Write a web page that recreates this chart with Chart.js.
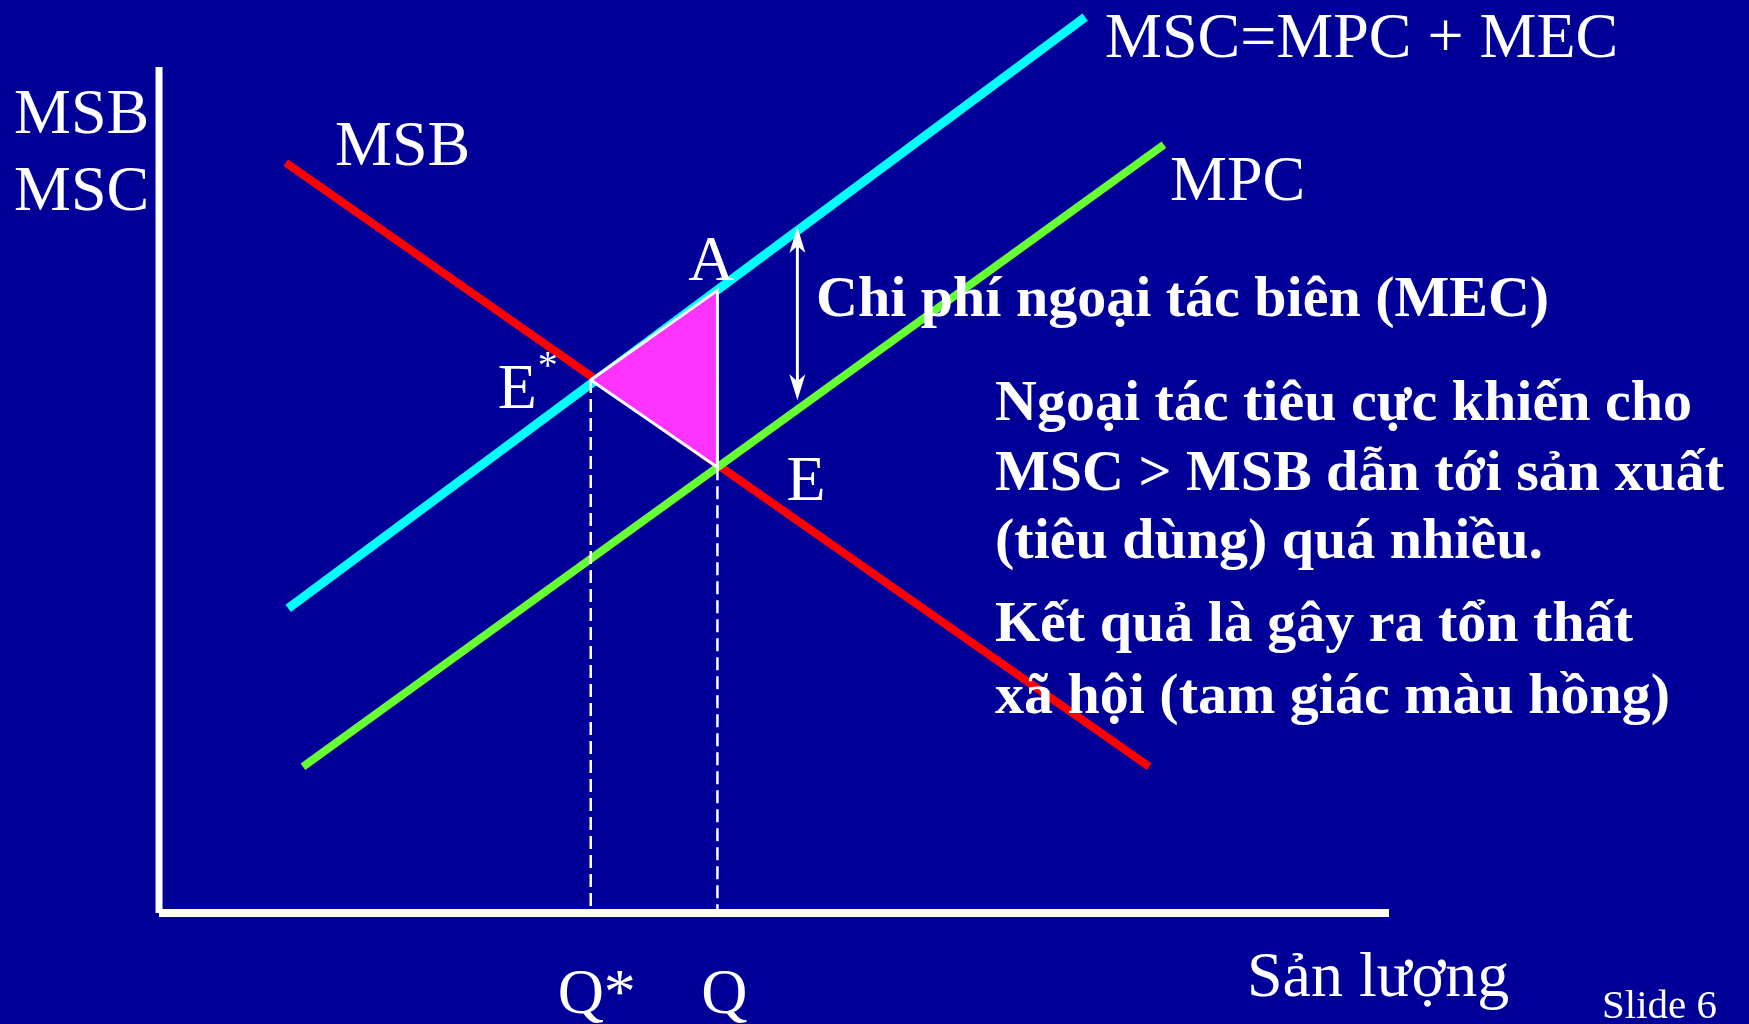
<!DOCTYPE html>
<html>
<head>
<meta charset="utf-8">
<script src="https://cdn.jsdelivr.net/npm/chart.js@4.4.1/dist/chart.umd.min.js"></script>
<style>
html, body { margin: 0; padding: 0; background: #000099; }
#wrap { position: relative; width: 1749px; height: 1024px; }
</style>
</head>
<body>
<div id="wrap"><canvas id="chart"></canvas></div>
<script>
// trục hoành: sản lượng 0..100, trục tung: chi phí / lợi ích 0..100
const axisMax = 100;
const msbX = [10.3, 80.5];
const msbY = [88.7, 17.3];
const mscX = [10.5, 75.3];
const mscY = [36.0, 105.9];
const mpcX = [11.7, 81.7];
const mpcY = [17.3, 90.8];
// E*, A, E
const triX = [35.1, 45.4, 45.4, 35.1];
const triY = [63.0, 73.6, 52.7, 63.0];
const qStar = 35.1, pStar = 63.0;
const qE = 45.4, pE = 52.7, pA = 73.6;
// mũi tên MEC
const mecX = 51.9, mecTop = 81.1, mecBottom = 60.6;

const pts = (xs, ys) => xs.map((x, i) => ({x, y: ys[i]}));

const serif = '"Liberation Serif", "Times New Roman", serif';

const labelPlugin = {
    id: "labels",
    afterDatasetsDraw(chart) {
        const {ctx, scales: {x, y}} = chart;
        const px = v => x.getPixelForValue(v);
        const py = v => y.getPixelForValue(v);
        ctx.save();
        ctx.fillStyle = "#fff";
        ctx.strokeStyle = "#fff";
        ctx.textBaseline = "alphabetic";

        // mũi tên hai đầu
        const ax = px(mecX), at = py(mecTop), ab = py(mecBottom);
        ctx.lineWidth = 3;
        ctx.beginPath();
        ctx.moveTo(ax, at + 12);
        ctx.lineTo(ax, ab - 12);
        ctx.stroke();
        const head = (x0, y0, dir) => {
            ctx.beginPath();
            ctx.moveTo(x0, y0);
            ctx.lineTo(x0 - 8, y0 + dir * 26);
            ctx.lineTo(x0, y0 + dir * 19);
            ctx.lineTo(x0 + 8, y0 + dir * 26);
            ctx.closePath();
            ctx.fill();
        };
        head(ax, at, 1);
        head(ax, ab, -1);

        ctx.font = "64px " + serif;
        ctx.textAlign = "left";
        ctx.fillText("MSB", 14, 133);
        ctx.fillText("MSC", 14, 210);
        ctx.fillText("MSB", 335, 165);
        ctx.fillText("MSC=MPC + MEC", 1105, 57);
        ctx.fillText("MPC", 1170, 200);
        ctx.fillText("Sản lượng", 1247, 996);

        ctx.textAlign = "center";
        ctx.fillText("A", px(qE) - 6, py(pA) - 10);
        ctx.fillText("Q*", px(qStar) + 6, 1013);
        ctx.fillText("Q", px(qE) + 7, 1013);
        ctx.textAlign = "left";
        ctx.fillText("E", px(qE) + 69, py(pE) + 33);
        ctx.fillText("E", px(qStar) - 93, py(pStar) + 28);
        ctx.font = "40px " + serif;
        ctx.fillText("*", px(qStar) - 53, py(pStar) - 2);

        ctx.font = "41px " + serif;
        ctx.fillText("Slide 6", 1602, 1018);

        ctx.font = "bold 58px " + serif;
        ctx.fillText("Chi phí ngoại tác biên (MEC)", 816, 316);
        const para = [
            ["Ngoại tác tiêu cực khiến cho", 420],
            ["MSC > MSB dẫn tới sản xuất", 490],
            ["(tiêu dùng) quá nhiều.", 558],
            ["Kết quả là gây ra tổn thất", 641],
            ["xã hội (tam giác màu hồng)", 713]
        ];
        para.forEach(([t, yy]) => ctx.fillText(t, 995, yy));
        ctx.restore();
    }
};

const line = (data, color, width, extra) => Object.assign({
    data, showLine: true, borderColor: color, borderWidth: width,
    pointRadius: 0, fill: false, borderCapStyle: "butt"
}, extra || {});

new Chart(document.getElementById("chart"), {
    type: "scatter",
    data: {
        datasets: [
            line(pts([qStar, qStar], [pStar, 0]), "#fff", 2.5, {borderDash: [13, 6]}),
            line(pts([qE, qE], [pE, 0]), "#fff", 2.5, {borderDash: [13, 6]}),
            line(pts(triX, triY), "#fff", 3, {fill: "shape", backgroundColor: "#ff33ff"}),
            line(pts(mscX, mscY), "#00ffff", 9),
            line(pts(mpcX, mpcY), "#66ff33", 8),
            line(pts(msbX, msbY), "#ff0000", 8),
            line(pts([0, 0], [0, axisMax]), "#fff", 7),
            line(pts([0, axisMax], [0, 0]), "#fff", 8)
        ]
    },
    options: {
        responsive: true,
        maintainAspectRatio: false,
        animation: false,
        layout: {padding: 0},
        plugins: {legend: {display: false}, tooltip: {enabled: false}},
        scales: {
            x: {type: "linear", display: false, min: -12.93, max: 129.27},
            y: {type: "linear", display: false, min: -13.12, max: 107.92}
        }
    },
    plugins: [labelPlugin]
});
</script>
</body>
</html>
